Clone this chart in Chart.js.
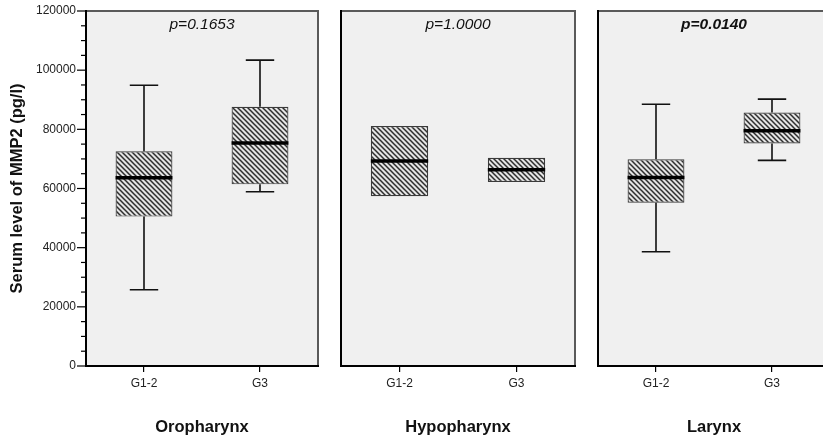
<!DOCTYPE html>
<html>
<head>
<meta charset="utf-8">
<script src="https://cdn.jsdelivr.net/npm/chart.js@4"></script>
<style>
  html, body { margin: 0; padding: 0; background: #fff; }
  #wrap { position: relative; width: 823px; height: 440px; overflow: hidden; }
  canvas { position: absolute; top: 0; }
</style>
</head>
<body>
<div id="wrap">
  <canvas id="c0" width="330" height="440" style="left:0px"></canvas>
  <canvas id="c1" width="256" height="440" style="left:330px"></canvas>
  <canvas id="c2" width="256" height="440" style="left:586px"></canvas>
</div>
<script>
// Data
const groups = ['G1-2', 'G3'];
const sites = ['Oropharynx', 'Hypopharynx', 'Larynx'];
const pValues = ['p=0.1653', 'p=1.0000', 'p=0.0140'];
const pBold = [false, false, true];

const whiskerLow  = [[25800, 58900], [null, null], [38600, 69500]];
const q1          = [[50500, 61400], [57400, 62200], [55200, 75200]];
const medians     = [[63600, 75400], [69300, 66300], [63700, 79500]];
const q3          = [[72600, 87600], [81100, 70400], [69900, 85700]];
const whiskerHigh = [[94900, 103400], [null, null], [88500, 90200]];

const yTicks = [0, 20000, 40000, 60000, 80000, 100000, 120000];

const FONT = "'Liberation Sans', Arial, sans-serif";

// Diagonal hatch used for the boxes
function makeHatch() {
    const s = 5;
    const c = document.createElement('canvas');
    c.width = s; c.height = s;
    const g = c.getContext('2d');
    g.fillStyle = '#e4e4e4';
    g.fillRect(0, 0, s, s);
    g.strokeStyle = '#2e2e2e';
    g.lineWidth = 1.5;
    g.beginPath();
    g.moveTo(0, 0); g.lineTo(s, s);
    g.moveTo(-1, s - 1); g.lineTo(1, s + 1);
    g.moveTo(s - 1, -1); g.lineTo(s + 1, 1);
    g.stroke();
    return g.createPattern(c, 'repeat');
}
const hatch = makeHatch();

// Panel background, frame, whiskers, medians, p-value
const panelPlugin = {
    id: 'panel',
    beforeDraw(chart) {
        const a = chart.chartArea, ctx = chart.ctx;
        ctx.save();
        ctx.fillStyle = '#f0f0f0';
        ctx.fillRect(a.left, a.top, a.right - a.left, a.bottom - a.top);
        ctx.restore();
    },
    afterDatasetsDraw(chart) {
        const k = chart.options.plugins.panel.site;
        const ctx = chart.ctx;
        const y = chart.scales.y;
        const meta = chart.getDatasetMeta(0);
        ctx.save();
        meta.data.forEach((bar, i) => {
            const half = bar.width / 2;
            // whiskers
            ctx.strokeStyle = '#111';
            ctx.lineWidth = 1.6;
            const cap = half / 2;
            [[whiskerLow[k][i], q1[k][i]], [whiskerHigh[k][i], q3[k][i]]].forEach(([w, edge]) => {
                if (w == null) return;
                const yw = y.getPixelForValue(w), ye = y.getPixelForValue(edge);
                ctx.beginPath();
                ctx.moveTo(bar.x, ye); ctx.lineTo(bar.x, yw);
                ctx.moveTo(bar.x - cap, yw); ctx.lineTo(bar.x + cap, yw);
                ctx.stroke();
            });
            // median
            const ym = y.getPixelForValue(medians[k][i]);
            ctx.strokeStyle = '#000';
            ctx.lineWidth = 3.5;
            ctx.beginPath();
            ctx.moveTo(bar.x - half, ym); ctx.lineTo(bar.x + half, ym);
            ctx.stroke();
        });
        ctx.restore();
    },
    afterDraw(chart) {
        const k = chart.options.plugins.panel.site;
        const a = chart.chartArea, ctx = chart.ctx;
        ctx.save();
        // top and right frame
        ctx.strokeStyle = '#5a5a5a';
        ctx.lineWidth = 2;
        ctx.beginPath();
        ctx.moveTo(a.left, a.top); ctx.lineTo(a.right, a.top); ctx.lineTo(a.right, a.bottom);
        ctx.stroke();
        // axes
        ctx.strokeStyle = '#000';
        ctx.beginPath();
        ctx.moveTo(a.left, a.top - 1); ctx.lineTo(a.left, a.bottom); ctx.lineTo(a.right + 1, a.bottom);
        ctx.stroke();
        // y tick marks on the first panel
        if (k === 0) {
            const y = chart.scales.y;
            ctx.lineWidth = 1.2;
            y.ticks.forEach(t => {
                const py = y.getPixelForValue(t.value);
                const len = yTicks.includes(t.value) ? 9 : 5;
                ctx.beginPath();
                ctx.moveTo(a.left - len, py); ctx.lineTo(a.left, py);
                ctx.stroke();
            });
        }
        // p-value
        ctx.fillStyle = '#111';
        ctx.font = (pBold[k] ? 'italic bold ' : 'italic ') + '15.5px ' + FONT;
        ctx.textAlign = 'center';
        ctx.textBaseline = 'middle';
        ctx.fillText(pValues[k], (a.left + a.right) / 2, a.top + 14);
        ctx.restore();
    }
};

function makeChart(id, k, padding, withYAxis) {
    const ctx = document.getElementById(id).getContext('2d');
    return new Chart(ctx, {
        type: 'bar',
        data: {
            labels: groups,
            datasets: [{
                data: q1[k].map((v, i) => [v, q3[k][i]]),
                backgroundColor: hatch,
                borderColor: '#3a3a3a',
                borderWidth: 1.2,
                borderSkipped: false,
                barPercentage: 0.49,
                categoryPercentage: 1
            }]
        },
        options: {
            responsive: false,
            animation: false,
            layout: { padding: padding },
            plugins: {
                legend: { display: false },
                title: { display: false },
                tooltip: { enabled: false },
                panel: { site: k }
            },
            scales: {
                x: {
                    offset: true,
                    border: { display: false },
                    grid: { display: true, drawOnChartArea: false, drawTicks: true, tickLength: 6, offset: false, color: '#000', lineWidth: 1.2 },
                    ticks: { color: '#222', font: { family: FONT, size: 12 }, padding: 4 },
                    title: { display: true, text: sites[k], color: '#111', font: { family: FONT, size: 16.5, weight: 'bold' }, padding: { bottom: 3 } },
                    afterFit: s => { s.height = 74; s.paddingLeft = 0; s.paddingRight = 0; }
                },
                y: {
                    display: withYAxis,
                    min: 0,
                    max: 120000,
                    border: { display: false },
                    grid: { display: false, drawTicks: false },
                    ticks: {
                        stepSize: 5000,
                        autoSkip: false,
                        padding: 10,
                        color: '#222',
                        font: { family: FONT, size: 12 },
                        callback: v => yTicks.includes(v) ? String(v) : ''
                    },
                    title: { display: true, text: 'Serum level of MMP2 (pg/l)', color: '#111', font: { family: FONT, size: 16.5, weight: 'bold' }, padding: { top: 8 } },
                    afterFit: s => { s.width = withYAxis ? 86 : 0; s.paddingTop = 0; s.paddingBottom = 0; }
                }
            }
        },
        plugins: [panelPlugin]
    });
}

makeChart('c0', 0, { left: 0, right: 12, top: 11, bottom: 0 }, true);
makeChart('c1', 1, { left: 11, right: 11, top: 11, bottom: 0 }, false);
makeChart('c2', 2, { left: 12, right: 12, top: 11, bottom: 0 }, false);
</script>
</body>
</html>
